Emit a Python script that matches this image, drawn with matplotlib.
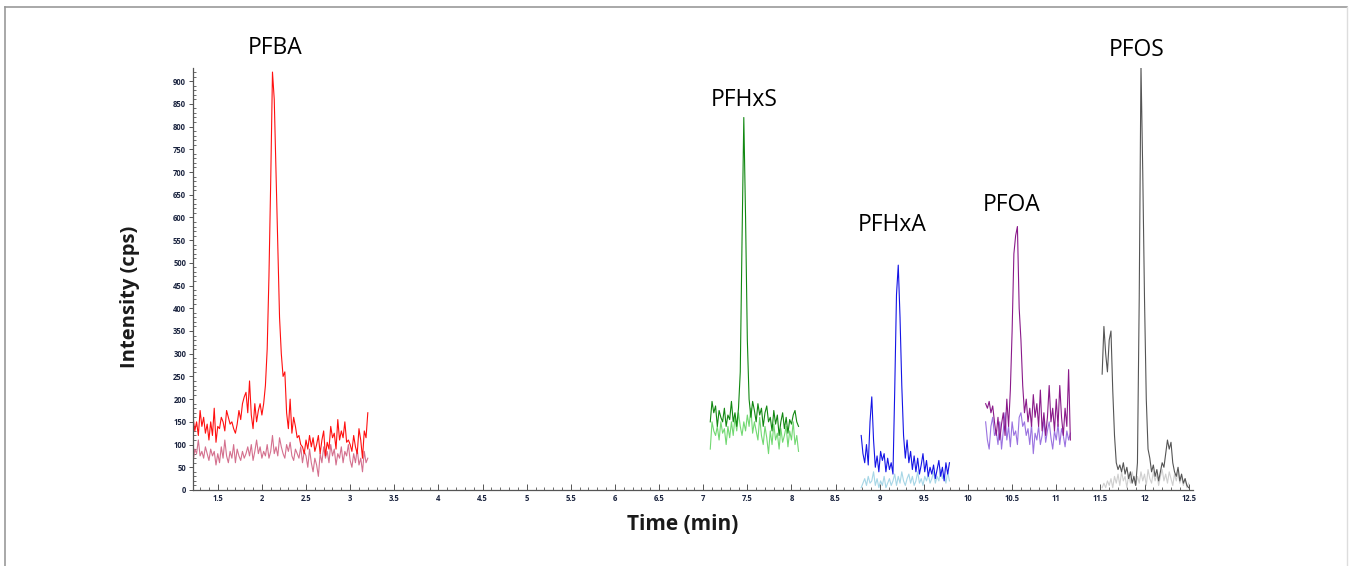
import numpy as np
import matplotlib
matplotlib.use("Agg")
import matplotlib.pyplot as plt
from matplotlib.lines import Line2D
from matplotlib.ticker import MultipleLocator

plt.rcParams['font.family'] = ['Open Sans', 'DejaVu Sans']

STEP = 0.02

# PFBA (quant = red, qual = pink), start 1.22 min
pfba_start = 1.22
pfba_quant = [160, 130, 150, 120, 175, 140, 160, 125, 145, 110,
              150, 120, 180, 105, 140, 135, 160, 150, 130, 175,
              160, 145, 150, 135, 125, 145, 175, 155, 190, 205,
              215, 170, 240, 165, 135, 190, 150, 175, 190, 165,
              190, 230, 310, 470, 680, 920, 860, 700, 540, 380,
              300, 250, 260, 170, 135, 200, 125, 160, 140, 115,
              120, 100, 95, 80, 110, 90, 120, 95, 115, 85,
              100, 120, 80, 110, 130, 75, 105, 90, 140, 115,
              125, 90, 155, 110, 130, 115, 150, 105, 110, 100,
              85, 120, 95, 80, 135, 110, 70, 130, 115, 170]
pfba_qual = [60, 90, 80, 110, 75, 85, 70, 95, 80, 65,
             90, 75, 85, 55, 80, 60, 95, 70, 110, 75,
             60, 85, 70, 100, 60, 90, 75, 65, 85, 70,
             80, 95, 75, 100, 65, 85, 110, 80, 95, 70,
             85, 75, 100, 70, 85, 120, 80, 95, 75, 115,
             95, 80, 70, 100, 85, 105, 75, 65, 90, 80,
             70, 95, 60, 85, 75, 50, 90, 60, 40, 70,
             55, 30, 80, 60, 95, 70, 85, 60, 100, 75,
             90, 55, 80, 70, 95, 60, 85, 75, 100, 65,
             50, 80, 60, 90, 55, 70, 40, 85, 60, 70]

# PFHxS, start 7.08 min
pfhxs_start = 7.08
pfhxs_quant = [150, 195, 170, 185, 140, 175, 160, 150, 180, 140,
               165, 155, 195, 150, 170, 140, 180, 260, 550, 820,
               600, 330, 200, 160, 195, 175, 150, 190, 165, 180,
               140, 170, 185, 150, 160, 130, 175, 145, 165, 120,
               150, 170, 135, 160, 125, 155, 145, 165, 175, 150,
               140]
pfhxs_qual = [90, 150, 130, 120, 140, 110, 150, 125, 135, 100,
              140, 115, 150, 120, 160, 130, 170, 140, 120, 150,
              130, 165, 140, 180, 125, 150, 130, 110, 160, 120,
              100, 140, 115, 80, 130, 100, 145, 110, 125, 90,
              135, 105, 120, 140, 95, 130, 110, 150, 100, 120,
              85]

# PFHxA, start 8.79 min
pfhxa_start = 8.79
pfhxa_quant = [120, 80, 60, 100, 55, 150, 205, 110, 50, 75,
               40, 85, 65, 80, 40, 70, 45, 60, 35, 220,
               430, 495, 380, 230, 120, 70, 110, 60, 85, 45,
               75, 40, 70, 35, 55, 80, 40, 65, 30, 50,
               35, 55, 25, 45, 65, 30, 50, 20, 60, 35,
               60]
pfhxa_qual = [5, 15, 25, 10, 30, 15, 20, 40, 10, 25,
              5, 20, 10, 30, 5, 15, 25, 10, 20, 35,
              10, 30, 15, 40, 20, 10, 25, 35, 15, 30,
              10, 20, 40, 15, 25, 10, 30, 20, 35, 15,
              25, 40, 15, 30, 20, 45, 25, 35, 15, 40,
              20]

# PFOA, start 10.20 min
pfoa_start = 10.20
pfoa_quant = [190, 180, 195, 170, 185, 150, 120, 160, 110, 145,
              170, 120, 200, 140, 220, 350, 520, 560, 580, 400,
              330, 230, 170, 200, 150, 180, 140, 210, 160, 190,
              140, 220, 130, 170, 120, 160, 230, 150, 180, 130,
              200, 140, 230, 160, 120, 180, 140, 265, 110]
pfoa_qual = [150, 110, 90, 140, 160, 120, 130, 100, 150, 90,
             130, 170, 110, 140, 95, 150, 120, 130, 100, 160,
             170, 140, 150, 120, 135, 100, 145, 80, 125, 110,
             140, 100, 120, 155, 105, 130, 150, 115, 90, 130,
             110, 145, 100, 135, 120, 95, 130, 110, 125]

# PFOS, start 11.52 min
pfos_start = 11.52
pfos_quant = [255, 360, 300, 260, 330, 350, 220, 120, 60, 45,
              55, 40, 60, 35, 50, 25, 40, 15, 30, 10,
              60, 420, 935, 700, 420, 200, 90, 70, 40, 55,
              30, 45, 20, 40, 60, 50, 80, 110, 90, 105,
              60, 40, 30, 50, 20, 35, 15, 25, 10, 5]
pfos_qual = [5, 15, 5, 20, 10, 25, 5, 30, 15, 35,
             10, 40, 20, 30, 5, 35, 15, 40, 20, 10,
             30, 15, 40, 20, 35, 10, 45, 25, 15, 40,
             20, 35, 10, 30, 45, 20, 35, 15, 40, 25,
             10, 35, 20, 40, 15, 30, 10, 25, 5, 15]

compounds = ["PFBA", "PFHxS", "PFHxA", "PFOA", "PFOS"]
label_pos = [(2.145, 973), (7.46, 858), (9.14, 583), (10.49, 627), (11.91, 968)]

traces = [
    (pfba_start, pfba_qual, '#d4708e'),
    (pfba_start, pfba_quant, '#ff1010'),
    (pfhxs_start, pfhxs_qual, '#72d872'),
    (pfhxs_start, pfhxs_quant, '#118811'),
    (pfhxa_start, pfhxa_qual, '#a6d6e6'),
    (pfhxa_start, pfhxa_quant, '#1414e6'),
    (pfoa_start, pfoa_qual, '#9a72e0'),
    (pfoa_start, pfoa_quant, '#8a1a8a'),
    (pfos_start, pfos_qual, '#cfcfcf'),
    (pfos_start, pfos_quant, '#555555'),
]

fig = plt.figure(figsize=(13.49, 5.66), dpi=100)
ax = fig.add_axes([0.1431, 0.1343, 0.7413, 0.7456])

for start, vals, col in traces:
    t = start + STEP * np.arange(len(vals))
    ax.plot(t, vals, color=col, lw=0.8)

ax.set_xlim(1.22, 12.55)
ax.set_ylim(0, 929)
ax.xaxis.set_minor_locator(MultipleLocator(0.1))
ax.yaxis.set_major_locator(MultipleLocator(50))
ax.yaxis.set_minor_locator(MultipleLocator(10))
xt = np.arange(1.5, 12.51, 0.5)
ax.set_xticks(xt)
ax.set_xticklabels([f"{v:g}" for v in xt])

for s in ['top', 'right']:
    ax.spines[s].set_visible(False)
for s in ['left', 'bottom']:
    ax.spines[s].set_color('#555555')
    ax.spines[s].set_linewidth(0.9)

ax.tick_params(axis='x', which='major', direction='in', length=4, width=0.7,
               colors='#555555', labelcolor='#1c2540', labelsize=5.5, pad=3)
ax.tick_params(axis='x', which='minor', direction='in', length=2, width=0.6, colors='#555555')
ax.tick_params(axis='y', which='major', direction='out', length=3, width=0.7,
               colors='#555555', labelcolor='#1c2540', labelsize=5.5, pad=2)
ax.tick_params(axis='y', which='minor', direction='in', length=2, width=0.6, colors='#555555')
for lab in ax.get_xticklabels() + ax.get_yticklabels():
    lab.set_fontweight('bold')

fig.text(130 / 1349, 1 - 297 / 566, "Intensity (cps)", rotation=90, ha='center', va='center',
         fontsize=14.5, fontweight='bold', color='#1a1a1a')
fig.text(683 / 1349, 1 - 525 / 566, "Time (min)", ha='center', va='center',
         fontsize=15, fontweight='bold', color='#1a1a1a')

for name, (x, y) in zip(compounds, label_pos):
    ax.text(x, y, name, ha='center', va='center', fontsize=16.5, color='black', clip_on=False)

# figure frame
fig.add_artist(Line2D([5 / 1349, 5 / 1349], [0, 1 - 7 / 566], transform=fig.transFigure,
                      color='#999999', lw=1.2))
fig.add_artist(Line2D([5 / 1349, 1347 / 1349], [1 - 7 / 566, 1 - 7 / 566], transform=fig.transFigure,
                      color='#999999', lw=1.2))
fig.add_artist(Line2D([1347 / 1349, 1347 / 1349], [0, 1 - 7 / 566], transform=fig.transFigure,
                      color='#dddddd', lw=1.0))

fig.savefig("out.png", dpi=100)
